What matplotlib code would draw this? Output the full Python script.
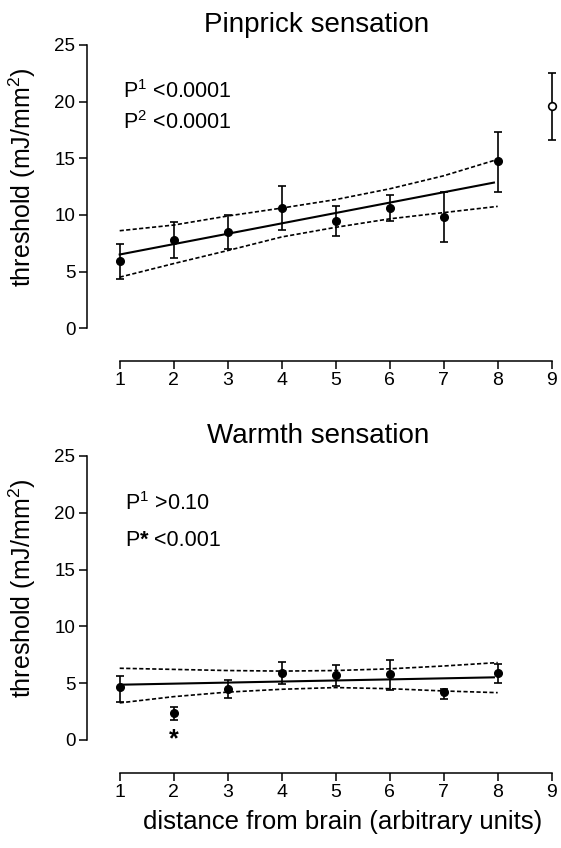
import numpy as np
import matplotlib
matplotlib.use('Agg')
import matplotlib.pyplot as plt
from matplotlib.transforms import offset_copy

plt.rcParams['font.family'] = ['Liberation Sans', 'DejaVu Sans']
plt.rcParams['mathtext.fontset'] = 'custom'
plt.rcParams['mathtext.rm'] = 'Liberation Sans'
plt.rcParams['mathtext.it'] = 'Liberation Sans:italic'
plt.rcParams['mathtext.bf'] = 'Liberation Sans:bold'

dist = [1, 2, 3, 4, 5, 6, 7, 8]
xticks = [1, 2, 3, 4, 5, 6, 7, 8, 9]
yticks = [0, 5, 10, 15, 20, 25]

# pinprick sensation
pin_mean = [5.9, 7.75, 8.5, 10.65, 9.45, 10.6, 9.85, 14.75]
pin_hi = [7.45, 9.35, 9.95, 12.55, 10.75, 11.75, 12.05, 17.35]
pin_lo = [4.35, 6.15, 7.0, 8.65, 8.15, 9.45, 7.6, 12.05]
pin_out_x = [9]
pin_out_mean = [19.6]
pin_out_hi = [22.5]
pin_out_lo = [16.6]
fit_x = [1, 7.93]
pin_fit = [6.5, 12.85]
pin_ci_hi = [8.6, 9.1, 9.9, 10.6, 11.35, 12.3, 13.45, 14.9]
pin_ci_lo = [4.5, 5.7, 6.85, 8.05, 8.9, 9.65, 10.2, 10.75]

# warmth sensation
warm_mean = [4.65, 2.35, 4.5, 5.9, 5.75, 5.8, 4.2, 5.9]
warm_hi = [5.65, 2.9, 5.25, 6.85, 6.55, 7.0, 4.5, 6.65]
warm_lo = [3.3, 1.75, 3.65, 4.95, 4.75, 4.4, 3.6, 5.0]
warm_fit = [4.85, 5.5]
warm_ci_hi = [6.3, 6.2, 6.1, 6.05, 6.1, 6.25, 6.5, 6.8]
warm_ci_lo = [3.25, 3.8, 4.2, 4.45, 4.6, 4.5, 4.3, 4.15]


def setup(ax):
    ax.set_xlim(0.4, 9.17)
    ax.set_ylim(-2.9, 25.3)
    for s in ['top', 'right']:
        ax.spines[s].set_visible(False)
    ax.spines['left'].set_bounds(0, 25)
    ax.spines['bottom'].set_bounds(1, 9)
    for s in ['left', 'bottom']:
        ax.spines[s].set_linewidth(1.1)
    ax.set_xticks(xticks)
    ax.set_yticks(yticks)
    ax.tick_params(width=1.1, length=5.5)
    ax.tick_params(axis='x', labelsize=14, pad=2.5)
    ax.tick_params(axis='y', labelsize=13.5, pad=3)
    ax.set_ylabel('threshold (mJ/mm$^2$)', fontsize=18)
    ax.yaxis.set_label_coords(-0.105, 0.575)
    ax.patch.set_visible(False)


def panel(ax, mean, hi, lo, fit, ci_hi, ci_lo):
    m = np.array(mean)
    err = [m - np.array(lo), np.array(hi) - m]
    ax.errorbar(dist, mean, yerr=err, fmt='o', color='black', ms=5.5,
                elinewidth=1.2, capsize=2.8, capthick=1.2)
    ax.plot(fit_x, fit, color='black', lw=1.5)
    ax.plot(dist, ci_hi, color='black', lw=1.2, ls=(0, (2.5, 1.4)))
    ax.plot(dist, ci_lo, color='black', lw=1.2, ls=(0, (2.5, 1.4)))


fig = plt.figure(figsize=(5.61, 8.48), dpi=100)
ax1 = fig.add_axes([0.1556, 0.5743, 0.8442, 0.3767])
ax2 = fig.add_axes([0.1556, 0.0888, 0.8442, 0.3775])
setup(ax1)
setup(ax2)

panel(ax1, pin_mean, pin_hi, pin_lo, pin_fit, pin_ci_hi, pin_ci_lo)
om = np.array(pin_out_mean)
ax1.errorbar(pin_out_x, pin_out_mean,
             yerr=[om - np.array(pin_out_lo), np.array(pin_out_hi) - om],
             fmt='o', color='black', mfc='white', mec='black', mew=1.2, ms=5.5,
             elinewidth=1.2, capsize=2.8, capthick=1.2)
ax1.text(1.065, 20.3, 'P$^1$ <0.0001', fontsize=15.5, va='baseline')
ax1.text(1.065, 17.55, 'P$^2$ <0.0001', fontsize=15.5, va='baseline')

panel(ax2, warm_mean, warm_hi, warm_lo, warm_fit, warm_ci_hi, warm_ci_lo)
ax2.text(1.1, 20.2, 'P$^1$ >0.10', fontsize=15.5, va='baseline')
ax2.text(1.1, 17.1, 'P', fontsize=15.5, va='baseline')
ax2.text(1.1, 17.1, '*', fontsize=15.5, fontweight='bold', va='baseline',
         transform=offset_copy(ax2.transData, fig=fig, x=14.5, y=0, units='dots'))
ax2.text(1.1, 17.1, ' <0.001', fontsize=15.5, va='baseline',
         transform=offset_copy(ax2.transData, fig=fig, x=22.5, y=0, units='dots'))
ax2.text(2, -0.6, '*', fontsize=18, fontweight='bold', ha='center', va='baseline')
ax2.set_xlabel('distance from brain (arbitrary units)', fontsize=18.5)
ax2.xaxis.set_label_coords(0.54, -0.115)

fig.text(317 / 561, 1 - 32 / 848, 'Pinprick sensation', ha='center', va='baseline', fontsize=20)
fig.text(318 / 561, 1 - 443 / 848, 'Warmth sensation', ha='center', va='baseline', fontsize=20)

fig.savefig('out.png', dpi=100)
